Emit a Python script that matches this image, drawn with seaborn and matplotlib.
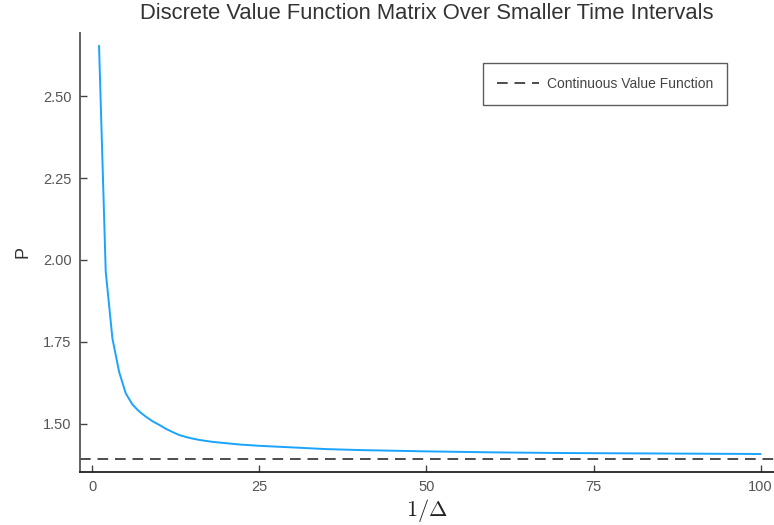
import matplotlib
matplotlib.use("Agg")
import matplotlib.pyplot as plt
import seaborn as sns
import pandas as pd

# Data
steps = [1, 2, 3, 4, 5, 6, 7, 8, 9, 10, 11, 12, 13, 14, 15, 16, 17, 18, 20, 22,
         25, 30, 35, 40, 50, 60, 70, 80, 90, 100]
p_values = [2.654, 1.964, 1.760, 1.658, 1.592, 1.558, 1.537, 1.521, 1.507, 1.496,
            1.484, 1.474, 1.465, 1.459, 1.454, 1.450, 1.447, 1.444, 1.440, 1.436,
            1.432, 1.427, 1.422, 1.419, 1.415, 1.412, 1.410, 1.409, 1.408, 1.407]
continuous_value = 1.393
x_ticks = [0, 25, 50, 75, 100]
y_ticks = [1.50, 1.75, 2.00, 2.25, 2.50]

sns.set_theme(style="white")
plt.rcParams["font.family"] = ["Liberation Sans", "DejaVu Sans"]
plt.rcParams["mathtext.fontset"] = "cm"

fig = plt.figure(figsize=(7.74, 5.25), dpi=100)
ax = fig.add_axes([80 / 774, 1 - 472 / 525, 1 - 80 / 774, (472 - 33) / 525])

df = pd.DataFrame({"x": steps, "P": p_values})
sns.lineplot(data=df, x="x", y="P", ax=ax, color="#1aa3ff", linewidth=1.4, label="_nolegend_")
ax.axhline(continuous_value, color="#4d4d4d", linestyle=(0, (5.5, 3.5)), linewidth=1.4,
           label="Continuous Value Function")

ax.set_xlim(-1.85, 102.0)
ax.set_ylim(1.352, 2.693)
ax.set_xticks(x_ticks)
ax.set_yticks(y_ticks)
ax.set_xticklabels([str(t) for t in x_ticks])
ax.set_yticklabels([f"{t:.2f}" for t in y_ticks])

for s in ["top", "right"]:
    ax.spines[s].set_visible(False)
ax.spines["left"].set_color("#555555")
ax.spines["bottom"].set_color("#222222")
ax.spines["left"].set_linewidth(1.3)
ax.spines["bottom"].set_linewidth(1.3)
ax.tick_params(axis="both", direction="in", length=5, width=1, colors="#444444",
               labelsize=10.5, labelcolor="#555555", pad=6, left=True, bottom=True)
ax.grid(False)

ax.set_xlabel(r"$1/\Delta$", fontsize=16, color="#222222", labelpad=2)
ax.set_ylabel("P", fontsize=13, color="#333333", labelpad=8)
ax.set_title("Discrete Value Function Matrix Over Smaller Time Intervals",
             fontsize=15.8, color="#333333", pad=10)

leg = ax.legend(loc="upper left", bbox_transform=fig.transFigure,
                bbox_to_anchor=(483 / 774, 1 - 63 / 525), borderaxespad=0, frameon=True,
                fontsize=10, handlelength=3.0, handletextpad=0.6, borderpad=1.0,
                fancybox=False, labelcolor="#444444")
leg.get_frame().set_edgecolor("#333333")
leg.get_frame().set_linewidth(1.0)

fig.savefig("out.png", dpi=100)
